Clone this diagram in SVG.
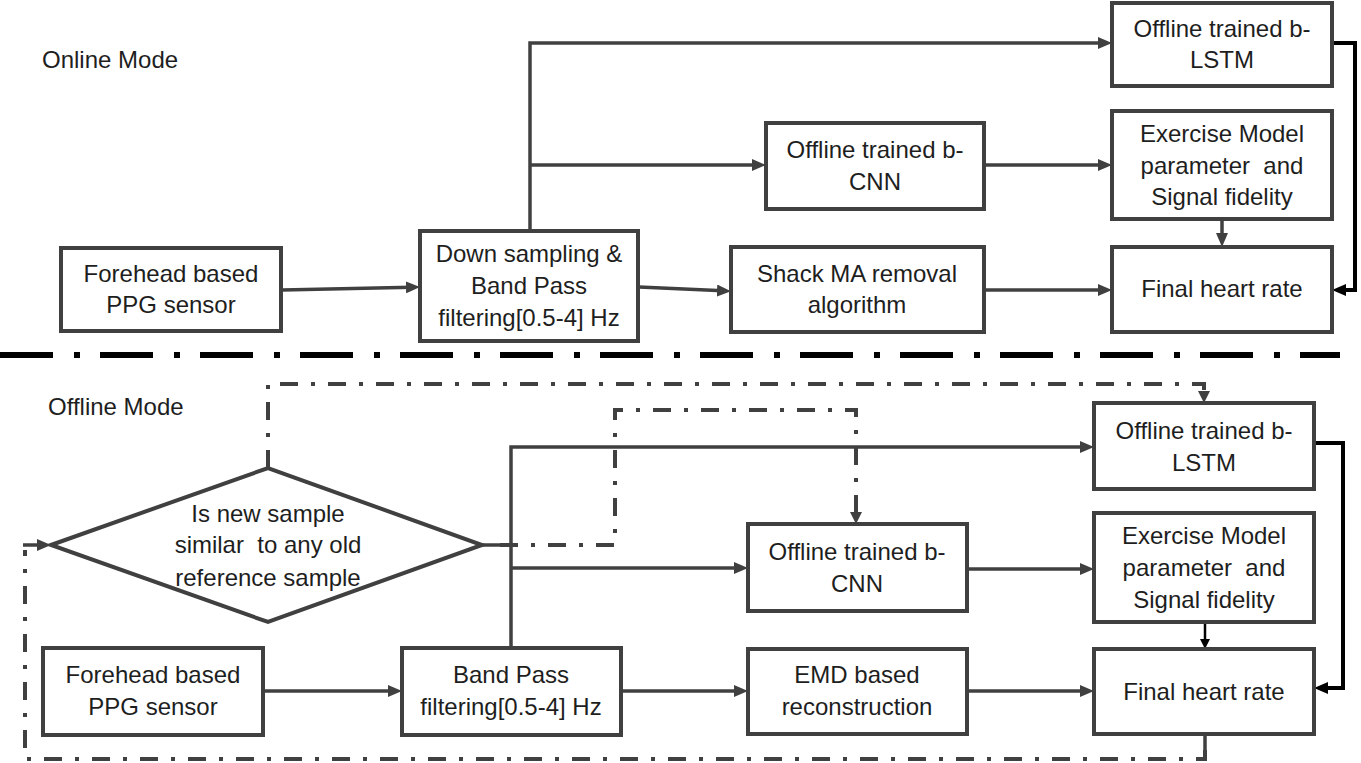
<svg xmlns="http://www.w3.org/2000/svg" width="1361" height="763" viewBox="0 0 1361 763">
<style>
.box{fill:#fff;stroke:#404040;stroke-width:4}
.t{font-family:"Liberation Sans",Arial,sans-serif;font-size:24px;fill:#1e1e1e;text-anchor:middle;white-space:pre}
.lbl{text-anchor:start}
.c{fill:none;stroke:#404040;stroke-width:3.5}
.k{fill:none;stroke:#000;stroke-width:4}
.k2{fill:none;stroke:#000;stroke-width:2.5}
.dd{fill:none;stroke:#404040;stroke-width:4;stroke-dasharray:18 13 4 13}
.sep{fill:none;stroke:#000;stroke-width:6;stroke-dasharray:53 21 6 20}
</style>
<defs>
<marker id="ag" markerUnits="userSpaceOnUse" viewBox="0 0 14 12" refX="6" refY="6" markerWidth="14" markerHeight="12" orient="auto"><path d="M0,0 L14,6 L0,12 z" fill="#404040"/></marker>
<marker id="ak" markerUnits="userSpaceOnUse" viewBox="0 0 14 12" refX="6" refY="6" markerWidth="14" markerHeight="12" orient="auto"><path d="M0,0 L14,6 L0,12 z" fill="#000"/></marker>
<marker id="as" markerUnits="userSpaceOnUse" viewBox="0 0 10 10" refX="4" refY="5" markerWidth="10" markerHeight="10" orient="auto"><path d="M0,0 L10,5 L0,10 z" fill="#000"/></marker>
<marker id="ad" markerUnits="userSpaceOnUse" viewBox="0 0 12 12" refX="12" refY="6" markerWidth="12" markerHeight="12" orient="auto"><path d="M0,0 L12,6 L0,12 z" fill="#404040"/></marker>
</defs>

<text class="t lbl" x="42" y="68">Online Mode</text>
<text class="t lbl" x="48" y="415">Offline Mode</text>

<line class="sep" x1="0" y1="355" x2="1340" y2="355"/>

<g id="connectors">
  <!-- online -->
  <path class="c" d="M282,290 L412,287.2" marker-end="url(#ag)"/>
  <path class="c" d="M530,231 V43 H1104" marker-end="url(#ag)"/>
  <path class="c" d="M530,165 H758" marker-end="url(#ag)"/>
  <path class="c" d="M639,287 L723,290.8" marker-end="url(#ag)"/>
  <path class="c" d="M984,165 H1104" marker-end="url(#ag)"/>
  <path class="c" d="M984,290 H1104" marker-end="url(#ag)"/>
  <path class="c" d="M1222,219 V239" marker-end="url(#ag)"/>
  <path class="k" d="M1332,43 H1355 V290 H1340" marker-end="url(#ak)"/>
  <!-- offline -->
  <path class="c" d="M263,691 H394" marker-end="url(#ag)"/>
  <path class="c" d="M511,648 V447 H1086" marker-end="url(#ag)"/>
  <path class="c" d="M511,568 H740" marker-end="url(#ag)"/>
  <path class="c" d="M621,691 H740" marker-end="url(#ag)"/>
  <path class="c" d="M967,569 H1086" marker-end="url(#ag)"/>
  <path class="c" d="M967,691 H1086" marker-end="url(#ag)"/>
  <path class="k2" d="M1205,622 V643" marker-end="url(#as)"/>
  <path class="k" d="M1314,443 H1343 V688 H1322" marker-end="url(#ak)"/>
  <!-- dash-dot feedback loops -->
  <path class="dd" d="M268,468 V384 H1204 V403" marker-end="url(#ad)"/>
  <line class="c" x1="482" y1="545" x2="500" y2="545"/>
  <path class="dd" d="M500,545 H615 V410 H856 V524" marker-end="url(#ad)"/>
  <line class="c" x1="1205" y1="734" x2="1205" y2="750"/>
  <path class="dd" d="M1205,750 V759 H25 V550"/>
  <path class="c" d="M23,545 H43" marker-end="url(#ag)"/>
</g>

<g id="n-forehead-on"><rect class="box" x="61" y="248" width="220" height="83"/>
<text class="t" x="171" y="282">Forehead based</text><text class="t" x="171" y="313">PPG sensor</text></g>

<g id="n-down-on"><rect class="box" x="420" y="231" width="218" height="110"/>
<text class="t" x="529" y="262">Down sampling &amp;</text><text class="t" x="529" y="294">Band Pass</text><text class="t" x="529" y="326">filtering[0.5-4] Hz</text></g>

<g id="n-lstm-on"><rect class="box" x="1112" y="3" width="220" height="83"/>
<text class="t" x="1222" y="37">Offline trained b-</text><text class="t" x="1222" y="68">LSTM</text></g>

<g id="n-cnn-on"><rect class="box" x="766" y="123" width="218" height="86"/>
<text class="t" x="875" y="158">Offline trained b-</text><text class="t" x="875" y="190">CNN</text></g>

<g id="n-ex-on"><rect class="box" x="1112" y="111" width="220" height="108"/>
<text class="t" x="1222" y="142">Exercise Model</text><text class="t" x="1222" y="174">parameter  and</text><text class="t" x="1222" y="205">Signal fidelity</text></g>

<g id="n-shack-on"><rect class="box" x="731" y="247" width="253" height="85"/>
<text class="t" x="857" y="282">Shack MA removal</text><text class="t" x="857" y="313">algorithm</text></g>

<g id="n-final-on"><rect class="box" x="1112" y="247" width="220" height="85"/>
<text class="t" x="1222" y="297">Final heart rate</text></g>

<g id="n-diamond"><polygon points="51,545 268,468 482,545 268,622" fill="none" stroke="#404040" stroke-width="4"/>
<text class="t" x="268" y="522">Is new sample</text><text class="t" x="268" y="553">similar  to any old</text><text class="t" x="268" y="586">reference sample</text></g>

<g id="n-forehead-off"><rect class="box" x="43" y="648" width="220" height="87"/>
<text class="t" x="153" y="683">Forehead based</text><text class="t" x="153" y="715">PPG sensor</text></g>

<g id="n-band-off"><rect class="box" x="402" y="648" width="219" height="87"/>
<text class="t" x="511" y="683">Band Pass</text><text class="t" x="511" y="715">filtering[0.5-4] Hz</text></g>

<g id="n-lstm-off"><rect class="box" x="1094" y="403" width="220" height="86"/>
<text class="t" x="1204" y="439">Offline trained b-</text><text class="t" x="1204" y="471">LSTM</text></g>

<g id="n-cnn-off"><rect class="box" x="748" y="524" width="219" height="87"/>
<text class="t" x="857" y="560">Offline trained b-</text><text class="t" x="857" y="592">CNN</text></g>

<g id="n-ex-off"><rect class="box" x="1094" y="513" width="220" height="109"/>
<text class="t" x="1204" y="544">Exercise Model</text><text class="t" x="1204" y="576">parameter  and</text><text class="t" x="1204" y="608">Signal fidelity</text></g>

<g id="n-emd-off"><rect class="box" x="748" y="649" width="219" height="85"/>
<text class="t" x="857" y="683">EMD based</text><text class="t" x="857" y="715">reconstruction</text></g>

<g id="n-final-off"><rect class="box" x="1094" y="649" width="220" height="85"/>
<text class="t" x="1204" y="700">Final heart rate</text></g>
</svg>
